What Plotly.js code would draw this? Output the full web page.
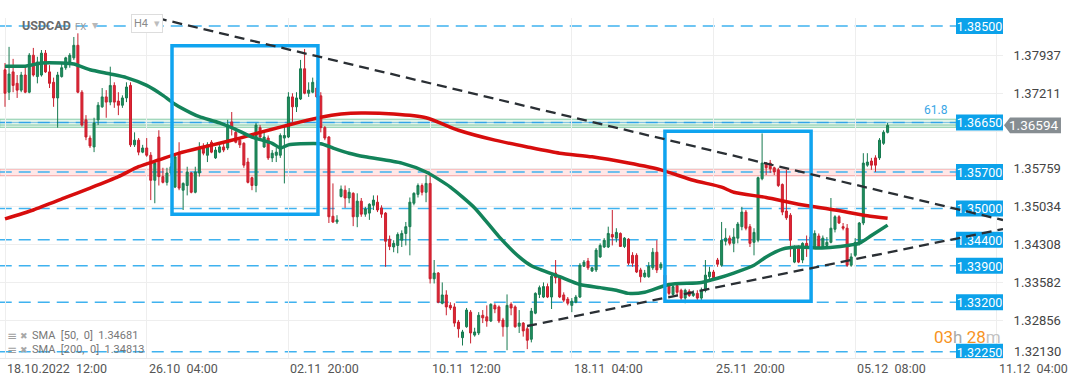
<!DOCTYPE html>
<html><head><meta charset="utf-8">
<script src="https://cdn.plot.ly/plotly-3.0.1.min.js"></script>
<style>html,body{margin:0;padding:0;background:#fff;}#chart{width:1072px;height:382px;}</style>
</head><body><div id="chart"></div>
<script>
// USDCAD H4 candles (bar index 0 = 18.10.2022 12:00)
const openP = [
1.3766,1.3723,1.3762,1.3740,1.3727,1.3756,1.3723,1.3794,1.3753,1.3756,
1.3798,1.3762,1.3742,1.3712,1.3753,1.3770,1.3781,1.3789,1.3813,1.3723,
1.3670,1.3635,1.3618,1.3670,1.3695,1.3714,1.3704,1.3736,1.3706,1.3698,
1.3712,1.3736,1.3622,1.3631,1.3608,1.3616,1.3602,1.3554,1.3637,1.3561,
1.3550,1.3568,1.3541,1.3606,1.3535,1.3544,1.3568,1.3531,1.3568,1.3618,
1.3602,1.3627,1.3597,1.3608,1.3618,1.3616,1.3666,1.3646,1.3631,1.3625,
1.3589,1.3559,1.3544,1.3655,1.3618,1.3635,1.3597,1.3602,1.3602,1.3635,
1.3637,1.3714,1.3695,1.3710,1.3768,1.3721,1.3723,1.3731,1.3716,1.3655,
1.3637,1.3485,1.3474,1.3523,1.3535,1.3520,1.3529,1.3484,1.3514,1.3489,
1.3491,1.3506,1.3512,1.3501,1.3491,1.3441,1.3426,1.3429,1.3439,1.3452,
1.3465,1.3510,1.3527,1.3544,1.3531,1.3548,1.3365,1.3376,1.3318,1.3334,
1.3314,1.3311,1.3282,1.3252,1.3273,1.3301,1.3257,1.3261,1.3295,1.3292,
1.3284,1.3314,1.3311,1.3286,1.3273,1.3316,1.3311,1.3274,1.3280,1.3269,
1.3249,1.3299,1.3335,1.3330,1.3350,1.3330,1.3376,1.3369,1.3334,1.3326,
1.3314,1.3320,1.3330,1.3389,1.3399,1.3380,1.3382,1.3407,1.3426,1.3426,
1.3450,1.3443,1.3452,1.3427,1.3441,1.3410,1.3410,1.3382,1.3369,1.3369,
1.3386,1.3416,1.3386,1.3372,1.3352,1.3335,1.3352,1.3343,1.3328,1.3341,
1.3333,1.3337,1.3328,1.3343,1.3369,1.3378,1.3401,1.3391,1.3437,1.3443,
1.3433,1.3443,1.3465,1.3493,1.3465,1.3435,1.3439,1.3557,1.3587,1.3587,
1.3578,1.3574,1.3546,1.3495,1.3487,1.3397,1.3426,1.3401,1.3433,1.3445,
1.3426,1.3447,1.3426,1.3429,1.3435,1.3460,1.3484,1.3465,1.3462,1.3391,
1.3410,1.3433,1.3472,1.3583,1.3591,1.3597,1.3597,1.3625,1.3646];
const highP = [
1.3779,1.3810,1.3787,1.3756,1.3762,1.3775,1.3798,1.3808,1.3791,1.3804,
1.3804,1.3775,1.3751,1.3762,1.3779,1.3791,1.3798,1.3829,1.3836,1.3727,
1.3679,1.3640,1.3674,1.3704,1.3731,1.3727,1.3772,1.3742,1.3723,1.3717,
1.3742,1.3742,1.3646,1.3635,1.3622,1.3635,1.3608,1.3589,1.3650,1.3578,
1.3578,1.3587,1.3606,1.3627,1.3550,1.3580,1.3570,1.3580,1.3627,1.3625,
1.3627,1.3631,1.3618,1.3625,1.3625,1.3670,1.3685,1.3655,1.3635,1.3627,
1.3597,1.3561,1.3664,1.3660,1.3646,1.3640,1.3612,1.3616,1.3644,1.3660,
1.3723,1.3721,1.3723,1.3785,1.3806,1.3742,1.3751,1.3746,1.3723,1.3658,
1.3639,1.3548,1.3487,1.3544,1.3544,1.3539,1.3531,1.3529,1.3520,1.3503,
1.3510,1.3525,1.3525,1.3506,1.3493,1.3448,1.3439,1.3454,1.3458,1.3474,
1.3521,1.3531,1.3548,1.3548,1.3564,1.3564,1.3401,1.3378,1.3358,1.3343,
1.3320,1.3318,1.3286,1.3267,1.3309,1.3305,1.3271,1.3301,1.3305,1.3314,
1.3318,1.3318,1.3314,1.3290,1.3335,1.3320,1.3314,1.3305,1.3282,1.3273,
1.3309,1.3339,1.3352,1.3358,1.3356,1.3376,1.3401,1.3372,1.3339,1.3330,
1.3328,1.3334,1.3395,1.3401,1.3405,1.3388,1.3424,1.3433,1.3443,1.3465,
1.3497,1.3462,1.3454,1.3445,1.3443,1.3416,1.3414,1.3386,1.3382,1.3397,
1.3424,1.3439,1.3397,1.3382,1.3356,1.3356,1.3358,1.3346,1.3346,1.3345,
1.3343,1.3343,1.3348,1.3401,1.3388,1.3382,1.3405,1.3474,1.3462,1.3448,
1.3462,1.3474,1.3503,1.3497,1.3470,1.3462,1.3561,1.3644,1.3589,1.3593,
1.3580,1.3578,1.3548,1.3574,1.3491,1.3429,1.3429,1.3435,1.3448,1.3448,
1.3458,1.3452,1.3448,1.3445,1.3520,1.3487,1.3487,1.3472,1.3470,1.3414,
1.3443,1.3474,1.3606,1.3606,1.3597,1.3602,1.3635,1.3650,1.3664];
const lowP = [
1.3695,1.3708,1.3723,1.3712,1.3723,1.3721,1.3721,1.3753,1.3740,1.3753,
1.3760,1.3731,1.3695,1.3655,1.3751,1.3766,1.3770,1.3785,1.3721,1.3657,
1.3631,1.3616,1.3608,1.3660,1.3693,1.3674,1.3698,1.3693,1.3679,1.3693,
1.3704,1.3618,1.3618,1.3602,1.3606,1.3599,1.3516,1.3510,1.3544,1.3548,
1.3544,1.3564,1.3539,1.3535,1.3497,1.3525,1.3529,1.3529,1.3561,1.3602,
1.3589,1.3606,1.3595,1.3606,1.3608,1.3612,1.3640,1.3625,1.3616,1.3578,
1.3548,1.3535,1.3531,1.3635,1.3616,1.3593,1.3589,1.3589,1.3597,1.3548,
1.3635,1.3666,1.3685,1.3708,1.3719,1.3714,1.3721,1.3712,1.3646,1.3631,
1.3472,1.3472,1.3470,1.3521,1.3501,1.3510,1.3466,1.3464,1.3484,1.3484,
1.3478,1.3497,1.3493,1.3482,1.3388,1.3420,1.3416,1.3414,1.3426,1.3429,
1.3410,1.3506,1.3521,1.3525,1.3512,1.3356,1.3356,1.3318,1.3316,1.3295,
1.3305,1.3273,1.3252,1.3237,1.3271,1.3241,1.3254,1.3257,1.3280,1.3273,
1.3282,1.3299,1.3280,1.3254,1.3228,1.3295,1.3271,1.3261,1.3254,1.3230,
1.3243,1.3297,1.3328,1.3328,1.3328,1.3307,1.3356,1.3328,1.3320,1.3314,
1.3301,1.3318,1.3328,1.3388,1.3382,1.3378,1.3378,1.3405,1.3424,1.3424,
1.3429,1.3435,1.3426,1.3424,1.3391,1.3388,1.3376,1.3358,1.3367,1.3367,
1.3382,1.3376,1.3382,1.3352,1.3333,1.3333,1.3333,1.3324,1.3318,1.3330,
1.3330,1.3324,1.3324,1.3339,1.3362,1.3362,1.3388,1.3388,1.3429,1.3429,
1.3416,1.3433,1.3458,1.3458,1.3426,1.3410,1.3435,1.3554,1.3564,1.3568,
1.3564,1.3541,1.3487,1.3478,1.3407,1.3395,1.3395,1.3395,1.3407,1.3420,
1.3424,1.3424,1.3424,1.3424,1.3433,1.3454,1.3470,1.3458,1.3388,1.3388,
1.3407,1.3429,1.3468,1.3580,1.3574,1.3570,1.3593,1.3622,1.3644];
const closeP = [
1.3721,1.3758,1.3736,1.3727,1.3756,1.3723,1.3794,1.3756,1.3781,1.3798,
1.3762,1.3740,1.3712,1.3756,1.3770,1.3789,1.3794,1.3813,1.3723,1.3660,
1.3637,1.3620,1.3664,1.3698,1.3714,1.3704,1.3736,1.3704,1.3698,1.3712,
1.3733,1.3622,1.3631,1.3608,1.3616,1.3602,1.3554,1.3587,1.3561,1.3550,
1.3568,1.3580,1.3599,1.3539,1.3548,1.3570,1.3531,1.3570,1.3616,1.3606,
1.3622,1.3608,1.3612,1.3618,1.3612,1.3660,1.3655,1.3627,1.3622,1.3583,
1.3550,1.3544,1.3660,1.3637,1.3637,1.3597,1.3606,1.3608,1.3640,1.3640,
1.3714,1.3695,1.3712,1.3768,1.3721,1.3727,1.3742,1.3714,1.3655,1.3635,
1.3484,1.3474,1.3478,1.3537,1.3520,1.3531,1.3484,1.3514,1.3489,1.3499,
1.3508,1.3516,1.3497,1.3489,1.3437,1.3427,1.3433,1.3450,1.3452,1.3465,
1.3512,1.3529,1.3544,1.3531,1.3548,1.3365,1.3376,1.3320,1.3334,1.3311,
1.3309,1.3280,1.3269,1.3263,1.3305,1.3261,1.3263,1.3295,1.3290,1.3284,
1.3316,1.3307,1.3284,1.3273,1.3314,1.3309,1.3273,1.3280,1.3265,1.3247,
1.3303,1.3337,1.3348,1.3350,1.3330,1.3370,1.3367,1.3330,1.3324,1.3318,
1.3322,1.3330,1.3391,1.3397,1.3386,1.3386,1.3420,1.3429,1.3439,1.3452,
1.3445,1.3454,1.3427,1.3443,1.3395,1.3395,1.3378,1.3369,1.3376,1.3389,
1.3416,1.3382,1.3393,1.3356,1.3337,1.3350,1.3339,1.3328,1.3343,1.3333,
1.3337,1.3328,1.3343,1.3372,1.3378,1.3367,1.3393,1.3439,1.3443,1.3433,
1.3445,1.3470,1.3493,1.3462,1.3433,1.3454,1.3559,1.3587,1.3578,1.3576,
1.3570,1.3544,1.3493,1.3482,1.3439,1.3424,1.3397,1.3433,1.3426,1.3426,
1.3452,1.3426,1.3443,1.3435,1.3462,1.3484,1.3472,1.3462,1.3391,1.3407,
1.3435,1.3472,1.3587,1.3589,1.3583,1.3583,1.3631,1.3646,1.36594];

// moving averages (bar index, value)
const sma50Idx = [0,5,9,14,17,21,26,30,35,39,42,46,48,53,58,61,66,68,70,73,78,81,85,89,98,104,110,116,122,127,130,137,142,147,151,154,158,164,172,176,180,185,188,192,196,201,205,208,211,214,218];
const sma50 = [1.3773,1.3773,1.3779,1.3779,1.3777,1.3766,1.3758,1.3751,1.3736,1.3717,1.3700,1.3683,1.3676,1.3664,1.3648,1.3637,1.3625,1.3616,1.3622,1.3624,1.3624,1.3616,1.3606,1.3599,1.3587,1.3570,1.3541,1.3501,1.3446,1.3407,1.3390,1.3369,1.3354,1.3348,1.3343,1.3337,1.3339,1.3354,1.3358,1.3366,1.3376,1.3391,1.3407,1.3422,1.3426,1.3424,1.3426,1.3429,1.3433,1.3448,1.3468];
const sma200Idx = [0,7,15,21,28,33,38,43,48,53,58,63,68,73,78,83,88,96,104,112,121,129,137,145,154,162,170,177,180,188,196,205,213,218];
const sma200 = [1.3480,1.3497,1.3521,1.3539,1.3561,1.3580,1.3593,1.3606,1.3616,1.3625,1.3635,1.3646,1.3656,1.3666,1.3675,1.3681,1.3683,1.3681,1.3674,1.3650,1.3631,1.3618,1.3606,1.3599,1.3587,1.3574,1.3554,1.3541,1.3531,1.3521,1.3508,1.3497,1.3486,1.3481];

// axis ticks
const tickIdx = [0,35,70,105,140,175,210,245];
const tickText = ['18.10.2022\u00a0\u00a012:00','26.10\u00a0\u00a004:00','02.11\u00a0\u00a020:00','10.11\u00a0\u00a012:00','18.11\u00a0\u00a004:00','25.11\u00a0\u00a020:00','05.12\u00a0\u00a008:00','11.12\u00a0\u00a004:00'];
const yTicks = [1.32856,1.33582,1.34308,1.35034,1.35759,1.36485,1.37211,1.37937];
const yBottomTick = 1.32130;

// drawings
const levels = [1.38500,1.36650,1.35700,1.35000,1.34400,1.33900,1.33200,1.32250];
const fibBand = [1.36556,1.36712];
const fibMid = 1.36600;
const fibLabel = '61.8';
const pinkBand = [1.35627,1.35756];
const lastPrice = 1.36594;
const trendDownX = [37.5,246.5], trendDownY = [1.38654,1.34777];
const trendUpX = [128.95,246.5], trendUpY = [1.32744,1.34604];
const boxX0 = [41.25,163.0], boxX1 = [77.3,199.1];
const boxY0 = [1.3489,1.3322], boxY1 = [1.3812,1.3648];
const smaLegend = ['SMA\u00a0\u00a0[50,\u00a0\u00a00]\u00a0\u00a01.34681','SMA\u00a0\u00a0[200,\u00a0\u00a00]\u00a0\u00a01.34813'];

const idx = openP.map((_, k) => k);
const lineEnd = 234.9;   // horizontal level lines stop before price labels
const labelX0 = 956/1003;
const halfBox = 0.00153;
const FONT = 'Roboto, "Open Sans", sans-serif';

const traces = [
  {type:'candlestick', x: idx, open: openP, high: highP, low: lowP, close: closeP,
   increasing:{line:{color:'#177a50', width:1}, fillcolor:'#20905e'},
   decreasing:{line:{color:'#c91f2d', width:1}, fillcolor:'#e12535'},
   whiskerwidth:0, hoverinfo:'skip', showlegend:false},
  {type:'scatter', mode:'lines', x: sma200Idx, y: sma200, line:{color:'#d70d0d', width:3.5, shape:'spline', smoothing:0.6}, hoverinfo:'skip', showlegend:false},
  {type:'scatter', mode:'lines', x: sma50Idx, y: sma50, line:{color:'#13835a', width:3.5, shape:'spline', smoothing:0.6}, hoverinfo:'skip', showlegend:false}
];

const shapes = [];
// bands
shapes.push({type:'rect', xref:'x', yref:'y', x0:-1.3, x1:lineEnd, y0:fibBand[0], y1:fibBand[1], fillcolor:'rgba(150,215,180,0.28)', line:{color:'rgba(100,190,145,0.75)', width:1}, layer:'below'});
shapes.push({type:'line', xref:'x', yref:'y', x0:-1.3, x1:lineEnd, y0:fibMid, y1:fibMid, line:{color:'rgba(100,190,145,0.75)', width:1}, layer:'below'});
shapes.push({type:'rect', xref:'x', yref:'y', x0:-1.3, x1:lineEnd, y0:pinkBand[0], y1:pinkBand[1], fillcolor:'rgba(255,185,185,0.35)', line:{color:'rgba(240,140,140,0.8)', width:1}, layer:'below'});
// dashed levels
levels.forEach(lv => {
  shapes.push({type:'line', xref:'x', yref:'y', x0:-1.3, x1:lineEnd, y0:lv, y1:lv, line:{color:'#3fb2ef', width:1.4, dash:'12px,7px'}, layer:'below'});
});
shapes.push({type:'line', xref:'x', yref:'y', x0:-1.3, x1:lineEnd, y0:levels[1], y1:levels[1], line:{color:'rgba(40,150,225,0.55)', width:1}, layer:'below'});
// blue boxes
boxX0.forEach((x0, k) => {
  shapes.push({type:'rect', xref:'x', yref:'y', x0:x0, x1:boxX1[k], y0:boxY0[k], y1:boxY1[k], line:{color:'#10a4ef', width:3.5}, fillcolor:'rgba(0,0,0,0)', layer:'above'});
});
// current price box
shapes.push({type:'path', xref:'paper', yref:'y',
  path:'M1.00698,'+(lastPrice+halfBox)+' L1.0578,'+(lastPrice+halfBox)+' L1.0578,'+(lastPrice-halfBox)+' L1.00698,'+(lastPrice-halfBox)+' L1.001,'+lastPrice+' Z',
  fillcolor:'#868d92', line:{width:0}, layer:'above'});
// level labels
levels.forEach(lv => {
  shapes.push({type:'rect', xref:'paper', yref:'y', x0:labelX0, x1:1.0, y0:lv-halfBox, y1:lv+halfBox, fillcolor:'#0ca2ea', line:{width:0}, layer:'above',
    label:{text: lv.toFixed(5), font:{family:FONT, size:12.5, color:'#ffffff'}, textposition:'middle center'}});
});
// trend lines (drawn last, over labels)
shapes.push({type:'line', xref:'x', yref:'y', x0:trendDownX[0], x1:trendDownX[1], y0:trendDownY[0], y1:trendDownY[1], line:{color:'#2a2f34', width:2.3, dash:'10px,6px'}, layer:'above'});
shapes.push({type:'line', xref:'x', yref:'y', x0:trendUpX[0], x1:trendUpX[1], y0:trendUpY[0], y1:trendUpY[1], line:{color:'#2a2f34', width:2.3, dash:'10px,6px'}, layer:'above'});

const ann = [];
tickIdx.forEach((t, k) => {
  ann.push({xref:'x', yref:'paper', x:t, y:0, xanchor:'left', yanchor:'top', yshift:-1, showarrow:false, text:tickText[k], font:{family:FONT, size:12.5, color:'#555'}});
});
ann.push({xref:'paper', yref:'y', x:1012/1003, y:yBottomTick, xanchor:'left', yanchor:'middle', yshift:7, showarrow:false, text:yBottomTick.toFixed(5), font:{family:FONT, size:13, color:'#444'}});
ann.push({xref:'paper', yref:'y', x:1033/1003, y:lastPrice, xanchor:'center', yanchor:'middle', showarrow:false, text:lastPrice.toFixed(5), font:{family:FONT, size:13.5, color:'#ffffff'}});
ann.push({xref:'x', yref:'y', x:lineEnd-1.5, y:fibBand[1], xanchor:'right', yanchor:'bottom', showarrow:false, text:fibLabel, font:{family:FONT, size:12, color:'#3aa6e6'}});
ann.push({xref:'paper', yref:'paper', x:20/1003, y:0.9868, xanchor:'left', yanchor:'middle', yshift:-3, showarrow:false, text:'<b>USDCAD</b>', font:{family:FONT, size:12.5, color:'#6b6b6b'}});
ann.push({xref:'paper', yref:'paper', x:73/1003, y:0.982, xanchor:'left', yanchor:'middle', yshift:-2, showarrow:false, text:'FX', font:{family:FONT, size:9.5, color:'#9a9a9a'}});
ann.push({xref:'paper', yref:'paper', x:90/1003, y:0.986, xanchor:'left', yanchor:'middle', yshift:-2, showarrow:false, text:'▾', font:{family:FONT, size:12, color:'#b8b8b8'}});
ann.push({xref:'paper', yref:'paper', x:131/1003, y:0.9868, xanchor:'left', yanchor:'middle', yshift:-1, showarrow:false, text:'H4\u00a0\u00a0<span style="color:#bdbdbd">▾</span>', font:{family:FONT, size:11, color:'#8a8a8a'}, bgcolor:'#ffffff', bordercolor:'#dddddd', borderwidth:1, borderpad:2});
smaLegend.forEach((s, k) => {
  const yp = k === 0 ? 0.066 : 0.025;
  ann.push({xref:'paper', yref:'paper', x:5/1003, y:yp, xanchor:'left', yanchor:'middle', showarrow:false, text:'≡', font:{family:'DejaVu Sans', size:12, color:'#a0a0a0'}});
  ann.push({xref:'paper', yref:'paper', x:18/1003, y:yp, xanchor:'left', yanchor:'middle', showarrow:false, text:'✖', font:{family:'DejaVu Sans', size:9, color:'#a8a8a8'}});
  ann.push({xref:'paper', yref:'paper', x:30/1003, y:yp, xanchor:'left', yanchor:'middle', showarrow:false, text:s, font:{family:FONT, size:11, color:'#777'}});
});
ann.push({xref:'paper', yref:'paper', x:1.0, y:0.063, xanchor:'right', yanchor:'middle', showarrow:false,
  text:'<span style="color:#f7931e">03</span><span style="color:#a9a9a9">h</span> <span style="color:#f7931e">28</span><span style="color:#c2c2c2">m</span>', font:{family:FONT, size:17}});

const layout = {
  width:1072, height:382,
  margin:{l:0, r:69, t:18, b:24},
  paper_bgcolor:'#ffffff', plot_bgcolor:'#ffffff',
  showlegend:false, dragmode:false, boxgap:0.3,
  xaxis:{type:'linear', range:[-1.235,246.5], rangeslider:{visible:false}, tickvals:tickIdx, showticklabels:false,
         showgrid:true, gridcolor:'#eeeeee', gridwidth:1, zeroline:false, showline:true, linecolor:'#e8e8e8', ticks:'', fixedrange:true},
  yaxis:{range:[1.3213,1.38654], side:'right', tickvals:yTicks,
         ticktext:yTicks.map(v => Math.abs(v - lastPrice) < 0.002 ? '' : v.toFixed(5)),
         showgrid:true, gridcolor:'#eeeeee', zeroline:false, ticks:'outside', ticklen:7, tickcolor:'rgba(0,0,0,0)',
         tickfont:{family:FONT, size:13, color:'#444'}, showline:false, fixedrange:true},
  shapes: shapes,
  annotations: ann,
  font:{family:FONT}
};
Plotly.newPlot('chart', traces, layout, {staticPlot:true, displayModeBar:false});
</script></body></html>
